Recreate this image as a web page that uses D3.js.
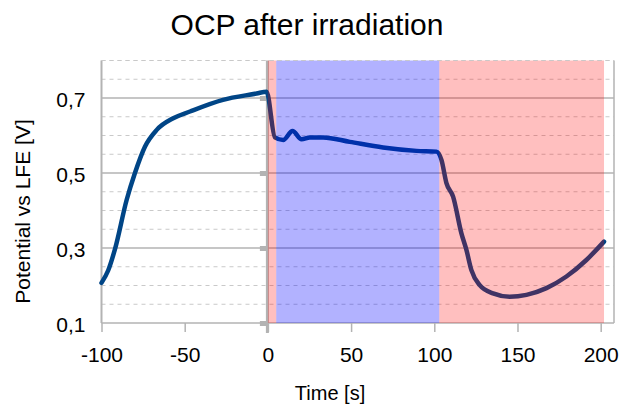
<!DOCTYPE html>
<html>
<head>
<meta charset="utf-8">
<script src="https://cdn.jsdelivr.net/npm/d3@7"></script>
<style>
  html, body { margin: 0; padding: 0; background: #fff; }
  svg { display: block; font-family: "Liberation Sans", Arial, sans-serif; }
</style>
</head>
<body>
<svg id="chart" width="623" height="405"></svg>
<script>
// Open-circuit potential recorded before, during and after irradiation
const time = [-100, -96, -91.9, -84.9, -79.9, -73.9, -66.8, -56.9, -46.8, -27.0, -6.8, -0.8,
  4.2, 9.2, 14.8, 20.2, 25.2, 33.2, 49.2, 69.2, 89.3, 101.3,
  104.3, 107.3, 111.3, 116.3, 119.3, 122.3, 127.3, 135.3, 145.3, 155.4, 167.4, 179.4, 191.4, 202];
const potential = [0.207, 0.240, 0.297, 0.428, 0.500, 0.570, 0.615, 0.646, 0.664, 0.695, 0.712, 0.717,
  0.595, 0.588, 0.612, 0.590, 0.595, 0.595, 0.583, 0.568, 0.559, 0.557,
  0.535, 0.473, 0.437, 0.339, 0.295, 0.241, 0.201, 0.179, 0.170, 0.175, 0.193, 0.224, 0.268, 0.317];

// Shaded phases: start, end and colour
const phaseStart = [0, 5, 103];
const phaseEnd = [5, 103, 202];
const phaseColor = ["rgba(255,0,0,0.25)", "rgba(0,0,255,0.3)", "rgba(255,0,0,0.25)"];

const xTicks = [-100, -50, 0, 50, 100, 150, 200];
const yMajor = [0.1, 0.3, 0.5, 0.7];
const yMinor = [0.15, 0.2, 0.25, 0.35, 0.4, 0.45, 0.55, 0.6, 0.65, 0.75, 0.8];
const yLabels = ["0,1", "0,3", "0,5", "0,7"];

const svg = d3.select("#chart");
const plotLeft = 101.5, plotRight = 614, plotTop = 60.5, plotBottom = 323;

const x = d3.scaleLinear().domain([-100, 208]).range([plotLeft, plotRight]);
const y = d3.scaleLinear().domain([0.1, 0.8]).range([plotBottom, plotTop]);

const gridGray = "#b3b3b3";

// minor dashed grid
svg.append("g").selectAll("line").data(yMinor).join("line")
  .attr("x1", plotLeft).attr("x2", plotRight)
  .attr("y1", d => y(d)).attr("y2", d => y(d))
  .attr("stroke", "#c9c9c9").attr("stroke-width", 1.2)
  .attr("stroke-dasharray", "4,4");

// major solid grid
svg.append("g").selectAll("line").data(yMajor).join("line")
  .attr("x1", plotLeft).attr("x2", plotRight)
  .attr("y1", d => y(d)).attr("y2", d => y(d))
  .attr("stroke", gridGray).attr("stroke-width", 1.5);

// frame sides
svg.append("line").attr("x1", plotLeft).attr("x2", plotLeft).attr("y1", plotTop).attr("y2", plotBottom)
  .attr("stroke", gridGray).attr("stroke-width", 2);
svg.append("line").attr("x1", plotRight).attr("x2", plotRight).attr("y1", plotTop).attr("y2", plotBottom)
  .attr("stroke", gridGray).attr("stroke-width", 1.5);

// x axis at the bottom
const xAxis = svg.append("g").attr("transform", `translate(0,${plotBottom})`)
  .call(d3.axisBottom(x).tickValues(xTicks).tickSize(9)
    .tickFormat(d => d < 0 ? "-" + Math.abs(d) : String(d)));
xAxis.select(".domain").remove();
xAxis.selectAll(".tick line").attr("stroke", gridGray).attr("stroke-width", 1.5);
xAxis.selectAll(".tick text").attr("font-size", 21).attr("fill", "#000")
  .attr("y", 39).attr("dy", null);

// y axis drawn through t = 0
const zeroAxis = svg.append("g").attr("transform", `translate(${x(0)},0)`)
  .call(d3.axisLeft(y).tickValues(yMajor).tickSize(8).tickFormat(""));
zeroAxis.select(".domain").remove();
zeroAxis.selectAll(".tick line").attr("stroke", gridGray).attr("stroke-width", 5);
svg.append("line").attr("x1", x(0) - 0.5).attr("x2", x(0) - 0.5).attr("y1", plotTop).attr("y2", 333)
  .attr("stroke", gridGray).attr("stroke-width", 3);

// y tick labels at the left of the plot
const yAxis = svg.append("g").attr("transform", `translate(${plotLeft},0)`)
  .call(d3.axisLeft(y).tickValues(yMajor).tickSize(0).tickPadding(16)
    .tickFormat((d, i) => yLabels[i]));
yAxis.select(".domain").remove();
yAxis.selectAll(".tick text").attr("font-size", 21).attr("fill", "#000")
  .attr("y", 8).attr("dy", null);

// potential curve
const line = d3.line()
  .x((d, i) => x(time[i]))
  .y(d => y(d))
  .curve(d3.curveMonotoneX);
svg.append("path").datum(potential)
  .attr("d", line)
  .attr("fill", "none")
  .attr("stroke", "#004586")
  .attr("stroke-width", 4.5)
  .attr("stroke-linejoin", "round")
  .attr("stroke-linecap", "round");

// translucent phase bands on top
svg.append("g").selectAll("rect").data(phaseStart).join("rect")
  .attr("x", d => x(d))
  .attr("width", (d, i) => x(phaseEnd[i]) - x(d))
  .attr("y", plotTop).attr("height", plotBottom - plotTop)
  .attr("fill", (d, i) => phaseColor[i]);

// top dashed border
svg.append("line").attr("x1", plotLeft).attr("x2", plotRight).attr("y1", plotTop).attr("y2", plotTop)
  .attr("stroke", "#c9c9c9").attr("stroke-width", 1.2).attr("stroke-dasharray", "4,4");

// titles
svg.append("text").attr("x", 307).attr("y", 35).attr("text-anchor", "middle")
  .attr("font-size", 30).attr("fill", "#000").text("OCP after irradiation");
svg.append("text").attr("x", 330).attr("y", 400).attr("text-anchor", "middle")
  .attr("font-size", 20).attr("fill", "#000").text("Time [s]");
svg.append("text").attr("transform", "translate(30,211.5) rotate(-90)")
  .attr("text-anchor", "middle").attr("font-size", 21).attr("fill", "#000")
  .text("Potential vs LFE [V]");
</script>
</body>
</html>
